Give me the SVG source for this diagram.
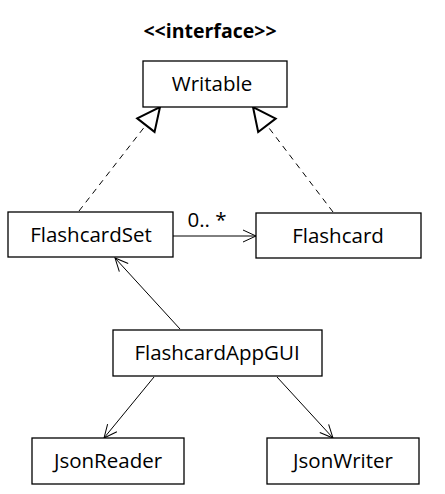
<svg xmlns="http://www.w3.org/2000/svg" width="445" height="494" viewBox="0 0 445 494">
<defs>
<style>
.box{fill:#fff;stroke:#000;stroke-width:1.3}
.t{font-family:"Open Sans","Liberation Sans",sans-serif;font-size:20.5px;fill:#000;text-anchor:middle}
.ln{stroke:#000;stroke-width:1;fill:none}
.dash{stroke:#000;stroke-width:1;fill:none;stroke-dasharray:6,5}
</style>
<marker id="open" markerWidth="16" markerHeight="14" refX="14" refY="7" orient="auto" markerUnits="userSpaceOnUse">
<path d="M1,1 L14,7 L1,13" fill="none" stroke="#000" stroke-width="1"/>
</marker>
<marker id="tri" markerWidth="28" markerHeight="26" refX="25" refY="13" orient="auto" markerUnits="userSpaceOnUse">
<path d="M2,2 L25,13 L2,24 Z" fill="#fff" stroke="#000" stroke-width="2"/>
</marker>
</defs>
<rect width="445" height="494" fill="#fff"/>
<g id="connectors">
<line class="dash" x1="79" y1="211" x2="160" y2="107" marker-end="url(#tri)"/>
<line class="dash" x1="333" y1="212" x2="253" y2="107" marker-end="url(#tri)"/>
<line class="ln" x1="173" y1="236" x2="256" y2="236" marker-end="url(#open)"/>
<text class="t" x="207" y="227">0.. *</text>
<line class="ln" x1="180" y1="329" x2="115" y2="258" marker-end="url(#open)"/>
<line class="ln" x1="154" y1="377" x2="104" y2="438" marker-end="url(#open)"/>
<line class="ln" x1="277" y1="377" x2="333" y2="438" marker-end="url(#open)"/>
</g>
<g id="writable">
<text class="t" x="210" y="38" style="font-weight:bold;font-size:19.5px">&lt;&lt;interface&gt;&gt;</text>
<rect class="box" x="143" y="61" width="144" height="46"/>
<text class="t" x="212" y="91">Writable</text>
</g>
<g id="flashcardset">
<rect class="box" x="8" y="212" width="165" height="45"/>
<text class="t" x="91" y="242">FlashcardSet</text>
</g>
<g id="flashcard">
<rect class="box" x="256" y="213" width="165" height="45"/>
<text class="t" x="338" y="243">Flashcard</text>
</g>
<g id="flashcardappgui">
<rect class="box" x="113" y="330" width="209" height="46"/>
<text class="t" x="217" y="360">FlashcardAppGUI</text>
</g>
<g id="jsonreader">
<rect class="box" x="32" y="438" width="152" height="46"/>
<text class="t" x="108" y="468">JsonReader</text>
</g>
<g id="jsonwriter">
<rect class="box" x="267" y="438" width="152" height="46"/>
<text class="t" x="343" y="468">JsonWriter</text>
</g>
</svg>
